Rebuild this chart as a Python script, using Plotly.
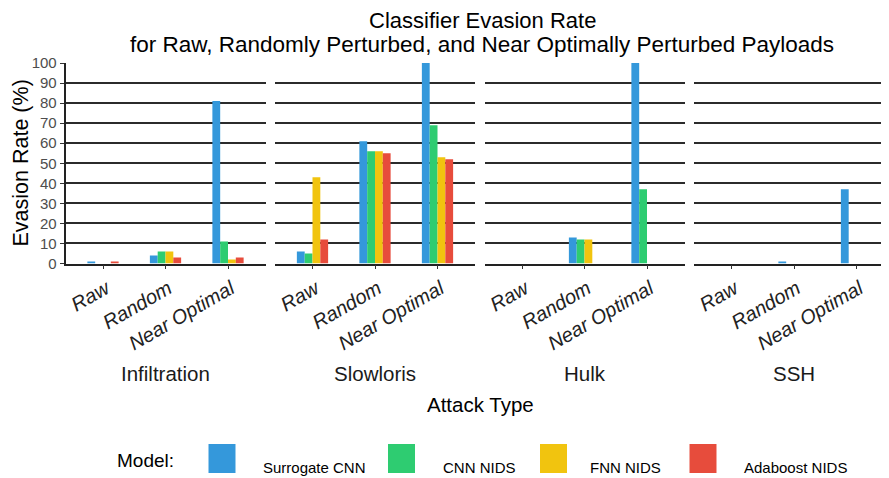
import plotly.graph_objects as go

# ---- data ----
attacks = ["Infiltration", "Slowloris", "Hulk", "SSH"]
payloads = ["Raw", "Random", "Near Optimal"]
models = ["Surrogate CNN", "CNN NIDS", "FNN NIDS", "Adaboost NIDS"]
colors = ["#3498DB", "#2ECC71", "#F1C40F", "#E74C3C"]

# values per attack: [Raw, Random, Near Optimal]
surrogate_cnn = [[1, 4, 81], [6, 61, 100], [0, 13, 100], [0, 1, 37]]
cnn_nids = [[0, 6, 11], [5, 56, 69], [0, 12, 37], [0, 0, 0]]
fnn_nids = [[0, 6, 2], [43, 56, 53], [0, 12, 0], [0, 0, 0]]
adaboost_nids = [[1, 3, 3], [12, 55, 52], [0, 0, 0], [0, 0, 0]]
series = [surrogate_cnn, cnn_nids, fnn_nids, adaboost_nids]

y_ticks = list(range(0, 101, 10))

# ---- layout helpers (reference pixels; page body has an 8px margin) ----
OFF = 8
W, H = 889 - OFF, 478 - OFF
FONT = "Liberation Sans, Arial, sans-serif"
panel_left = [65.5, 275.0, 484.5, 694.0]
panel_w = 200.0
y_top_px, y_bot_px = 63.0, 263.5


def px(x):
    return (x - OFF) / W


def py(y):
    return 1 - (y - OFF) / H


fig = go.Figure()

for i, att in enumerate(attacks):
    for j, m in enumerate(models):
        fig.add_trace(go.Bar(
            x=payloads,
            y=series[j][i],
            name=m,
            marker=dict(color=colors[j], line=dict(width=0)),
            xaxis="x" if i == 0 else f"x{i+1}",
            yaxis="y" if i == 0 else f"y{i+1}",
            offsetgroup=str(j),
            showlegend=False,
        ))

layout = dict(
    width=W, height=H,
    margin=dict(l=0, r=0, t=0, b=0),
    paper_bgcolor="white", plot_bgcolor="white",
    barmode="group", bargap=0.5, bargroupgap=0,
    font=dict(family=FONT, color="#000"),
    showlegend=False,
)

for i in range(4):
    left = panel_left[i]
    right = min(left + panel_w, 889)
    xr_end = 2.6 - (left + panel_w - right) / (panel_w / 3.2)
    xk = "xaxis" if i == 0 else f"xaxis{i+1}"
    yk = "yaxis" if i == 0 else f"yaxis{i+1}"
    layout[xk] = dict(
        domain=[px(left), min(px(right), 1)],
        anchor="y" if i == 0 else f"y{i+1}",
        type="category",
        range=[-0.6, xr_end],
        showline=True, linecolor="#222", linewidth=1.6,
        ticks="outside", ticklen=4, tickcolor="#333", tickwidth=1,
        tickangle=-30,
        tickfont=dict(family=FONT, size=20, color="#222", style="italic"),
        ticklabelshift=3,
        showgrid=False, zeroline=False, automargin=False,
        fixedrange=True,
    )
    layout[yk] = dict(
        domain=[py(y_bot_px), py(y_top_px)],
        anchor="x" if i == 0 else f"x{i+1}",
        range=[0, 100],
        tickvals=y_ticks,
        showgrid=True, gridcolor="#2b2b2b", gridwidth=1.6,
        zeroline=False,
        showticklabels=(i == 0),
        showline=(i == 0), linecolor="#222", linewidth=1.6,
        ticks="outside" if i == 0 else "", ticklen=4, tickcolor="#333",
        tickfont=dict(family=FONT, size=15, color="#4D4D4D"),
        automargin=False, fixedrange=True,
    )

fig.update_layout(**layout)

ann = []
# title
ann.append(dict(text="Classifier Evasion Rate", x=px(482), y=py(20), xref="paper", yref="paper",
                showarrow=False, font=dict(size=22, color="#000"), xanchor="center", yanchor="middle",
                borderpad=0))
ann.append(dict(text="for Raw, Randomly Perturbed, and Near Optimally Perturbed Payloads", x=px(482), y=py(44),
                xref="paper", yref="paper", showarrow=False, font=dict(size=22.5, color="#000"),
                xanchor="center", yanchor="middle"))
# y title
ann.append(dict(text="Evasion Rate (%)", x=px(20.5), y=py(163), xref="paper", yref="paper", textangle=-90,
                showarrow=False, font=dict(size=21.5, color="#000"), xanchor="center", yanchor="middle",
                borderpad=0))
# facet labels
for i, att in enumerate(attacks):
    ann.append(dict(text=att, x=px(panel_left[i] + panel_w / 2), y=py(373), xref="paper", yref="paper",
                    showarrow=False, font=dict(size=20.5, color="#1a1a1a"), xanchor="center", yanchor="middle"))
# x title
ann.append(dict(text="Attack Type", x=px(480), y=py(404), xref="paper", yref="paper",
                showarrow=False, font=dict(size=20.5, color="#000"), xanchor="center", yanchor="middle"))

# manual legend
ann.append(dict(text="Model:", x=px(145), y=py(460), xref="paper", yref="paper",
                showarrow=False, font=dict(size=19, color="#000"), xanchor="center", yanchor="middle"))
sq_left = [208.5, 388, 540, 689.5]
lab_left = [261, 441, 588, 742]
shapes = []
for j, m in enumerate(models):
    shapes.append(dict(type="rect", xref="paper", yref="paper",
                       x0=px(sq_left[j]), x1=px(sq_left[j] + 27), y0=py(473), y1=py(444),
                       fillcolor=colors[j], line=dict(width=0)))
    ann.append(dict(text=m, x=px(lab_left[j]), y=py(467), xref="paper", yref="paper",
                    showarrow=False, font=dict(size=15, color="#000"), xanchor="left", yanchor="middle"))

fig.update_layout(annotations=ann, shapes=shapes)
fig.write_html("out.html")
